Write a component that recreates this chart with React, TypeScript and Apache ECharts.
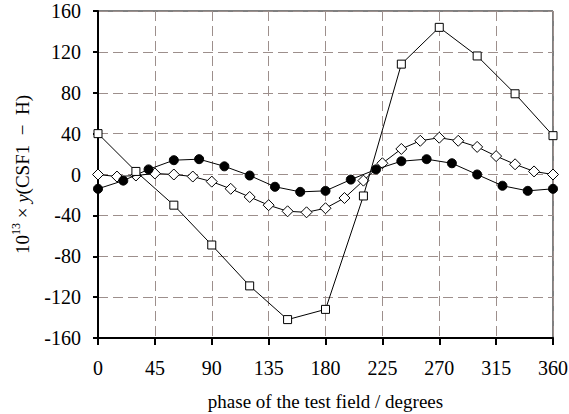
import React, { useEffect, useRef } from "react";
import * as echarts from "echarts";

const squarePhase = [0, 30, 60, 90, 120, 150, 180, 210, 240, 270, 300, 330, 360];
const squareValues = [40, 3, -30, -69, -109, -142, -132, -21, 108, 144, 116, 79, 38];

const circlePhase = [0, 20, 40, 60, 80, 100, 120, 140, 160, 180, 200, 220, 240, 260, 280, 300, 320, 340, 360];
const circleValues = [-14, -6, 5, 14, 15, 8, -1, -12, -17, -16, -5, 5, 13, 15, 11, 0, -11, -16, -14];

const diamondPhase = [0, 15, 30, 45, 60, 75, 90, 105, 120, 135, 150, 165, 180, 195, 210, 225, 240, 255, 270, 285, 300, 315, 330, 345, 360];
const diamondValues = [0, -2, -1, 1, 0, -2, -7, -14, -22, -30, -36, -37, -33, -23, -6, 11, 25, 33, 36, 33, 27, 18, 10, 3, 0];

const xTicks = [0, 45, 90, 135, 180, 225, 270, 315, 360];
const yTicks = [-160, -120, -80, -40, 0, 40, 80, 120, 160];

const FONT = "Liberation Serif";
const GRID_COLOR = "#9d8f8c";

function zip(xs: number[], ys: number[]) {
  return xs.map((x, i) => [x, ys[i]]);
}

export default function App() {
  const ref = useRef<HTMLDivElement>(null);
  useEffect(() => {
    document.body.style.margin = "0";
    if (!ref.current) return;
    const chart = echarts.init(ref.current, null, { renderer: "svg" });
    const lineStyle = { color: "#000", width: 1 };
    chart.setOption({
      animation: false,
      backgroundColor: "#fff",
      grid: {
        left: 98,
        right: 16,
        top: 11,
        bottom: 76,
        outerBoundsMode: "none",
        containLabel: false,
        show: true,
        borderColor: "#000",
        borderWidth: 1,
        backgroundColor: "transparent",
      },
      xAxis: {
        type: "value",
        min: xTicks[0],
        max: xTicks[xTicks.length - 1],
        interval: 45,
        name: "phase of the test field / degrees",
        nameLocation: "middle",
        nameGap: 54,
        nameTextStyle: { fontFamily: FONT, fontSize: 19, color: "#000" },
        axisLine: { show: true, onZero: false, lineStyle: { color: "#000", width: 2 } },
        axisTick: { show: true, length: 7, lineStyle: { color: "#000", width: 2 } },
        axisLabel: { fontFamily: FONT, fontSize: 20, color: "#000", margin: 20 },
        splitLine: { show: true, lineStyle: { color: GRID_COLOR, width: 1, type: [10, 5] } },
      },
      yAxis: {
        type: "value",
        min: yTicks[0],
        max: yTicks[yTicks.length - 1],
        interval: 40,
        name: "{n|10}{sup|13}{n| × }{i|y}{n|(CSF1  −  H)}",
        nameLocation: "middle",
        nameRotate: 90,
        nameGap: 64,
        nameTextStyle: {
          fontFamily: FONT,
          fontSize: 19,
          color: "#000",
          rich: {
            n: { fontFamily: FONT, fontSize: 19, color: "#000", lineHeight: 24 },
            i: { fontFamily: FONT, fontSize: 19, color: "#000", fontStyle: "italic", lineHeight: 24 },
            sup: { fontFamily: FONT, fontSize: 12, color: "#000", lineHeight: 13, verticalAlign: "top" },
          },
        },
        axisLine: { show: true, onZero: false, lineStyle: { color: "#000", width: 2 } },
        axisTick: { show: true, length: 5, lineStyle: { color: "#000", width: 2 } },
        axisLabel: { fontFamily: FONT, fontSize: 20, color: "#000", margin: 17 },
        splitLine: { show: true, lineStyle: { color: GRID_COLOR, width: 1, type: [10, 5] } },
      },
      series: [
        {
          type: "line",
          data: zip(diamondPhase, diamondValues),
          symbol: "diamond",
          symbolSize: 11,
          lineStyle,
          itemStyle: { color: "#fff", borderColor: "#000", borderWidth: 1 },
          z: 3,
        },
        {
          type: "line",
          data: zip(circlePhase, circleValues),
          symbol: "circle",
          symbolSize: 9,
          lineStyle,
          itemStyle: { color: "#000", borderColor: "#000", borderWidth: 1 },
          z: 4,
        },
        {
          type: "line",
          data: zip(squarePhase, squareValues),
          symbol: "rect",
          symbolSize: 8,
          lineStyle,
          itemStyle: { color: "#fff", borderColor: "#000", borderWidth: 1 },
          z: 5,
        },
      ],
    });
    return () => chart.dispose();
  }, []);
  return <div ref={ref} style={{ width: 569, height: 414 }} />;
}
